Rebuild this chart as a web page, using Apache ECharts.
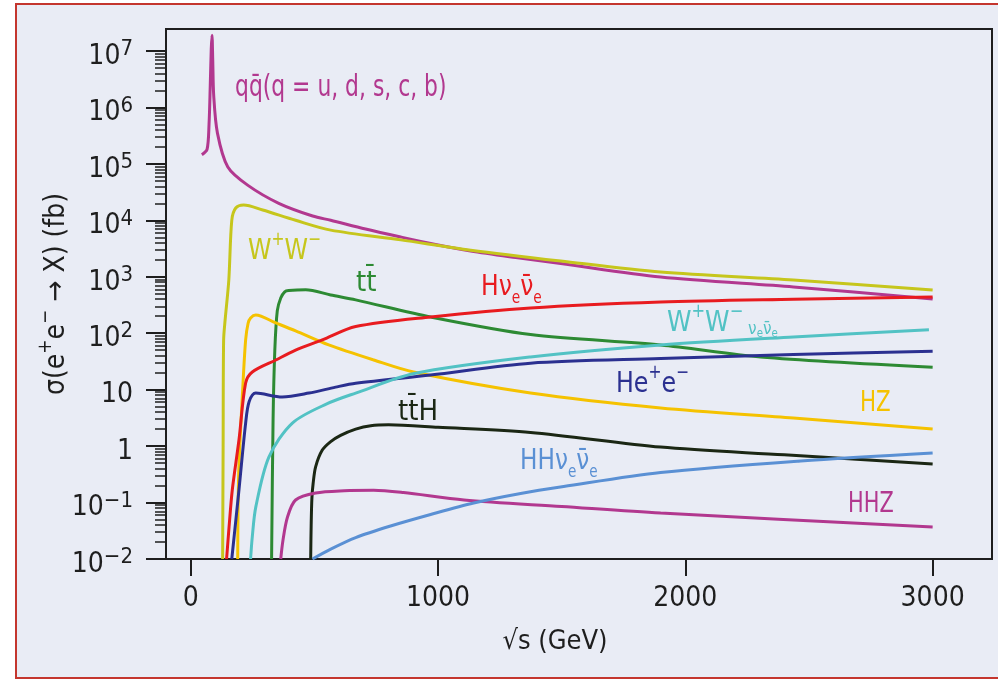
<!DOCTYPE html>
<html><head><meta charset="utf-8">
<script src="https://cdn.jsdelivr.net/npm/echarts@6/dist/echarts.min.js"></script>
<style>html,body{margin:0;padding:0;background:#fff}#c{width:998px;height:681px}</style>
</head><body><div id="c"></div>
<script>
// ---------- data ----------
const xTickValues = [0, 1000, 2000, 3000];
const yMajorTicks = [0.01, 0.1, 1, 10, 100, 1000, 1e4, 1e5, 1e6, 1e7];
const yTickBase = ['10', '10', '1', '10', '10', '10', '10', '10', '10', '10'];
const yTickExp = ['\u22122', '\u22121', '', '', '2', '3', '4', '5', '6', '7'];
const minorMultipliers = [2, 3, 4, 5, 6, 7, 8, 9];

const qqbar = [[45,1.45e5],[66,1.8e5],[74,5e5],[79,2.5e6],[83,1.1e7],[86,1.9e7],[89,7e6],[93,1.6e6],[108,3.5e5],[150,8.8e4],[230,4.2e4],[356,2.0e4],[493,1.19e4],[566,1.0e4],[707,7.0e3],[849,5.06e3],[990,3.73e3],[1132,2.86e3],[1314,2.19e3],[1496,1.71e3],[1900,990],[2437,660],[3000,404]];
const wwPair = [[129,0.01],[131,1],[133,76],[139,170],[154,877],[166,1.0e4],[182,1.65e4],[214,1.87e4],[291,1.52e4],[424,1.0e4],[566,6.7e3],[849,4.5e3],[1132,2.96e3],[1496,1.9e3],[1900,1.21e3],[2437,877],[3000,583]];
const ttbar = [[327,0.01],[333,3],[340,50],[350,250],[364,420],[380,540],[396,570],[465,590],[566,475],[667,390],[970,194],[1374,95],[1900,62],[2304,38],[3000,25]];
const hz = [[190,0.01],[194,0.33],[210,9.9],[222,76],[232,150],[242,186],[263,210],[344,152],[424,110],[558,62],[740,33.5],[901,20.5],[1374,8.7],[1900,4.73],[2437,3.14],[3000,2.01]];
const hnunu = [[145,0.01],[155,0.037],[168,0.167],[195,1.28],[222,13.1],[249,20.6],[344,33.5],[424,50],[532,76],[667,131],[970,194],[1374,280],[1900,357],[2437,400],[3000,440]];
const hee = [[166,0.01],[195,0.167],[222,2.55],[236,6.1],[263,8.7],[370,7.4],[478,8.7],[586,11.1],[667,13.0],[970,18.2],[1374,29.5],[1900,35.6],[2437,42],[3000,48]];
const wwnunu = [[242,0.01],[249,0.025],[263,0.083],[316,0.64],[411,2.56],[550,5.6],[667,8.7],[903,19.3],[1374,38],[1900,62],[2437,86],[2985,115]];
const tth = [[485,0.01],[487,0.04],[490,0.12],[495,0.22],[505,0.43],[532,0.85],[566,1.2],[606,1.55],[667,2.0],[728,2.3],[800,2.38],[1000,2.16],[1374,1.75],[1900,0.96],[2400,0.7],[3000,0.48]];
const hhz = [[364,0.01],[373,0.0215],[391,0.055],[424,0.111],[505,0.148],[620,0.162],[740,0.165],[860,0.15],[1105,0.111],[1500,0.085],[1900,0.065],[3000,0.037]];
const hhnunu = [[492,0.01],[566,0.015],[667,0.024],[808,0.0384],[970,0.0614],[1144,0.098],[1334,0.1446],[1508,0.192],[1900,0.34],[2466,0.544],[3000,0.755]];

// ---------- styling ----------
const FF = '"DejaVu Sans Condensed", "DejaVu Sans", sans-serif';
const INK = '#1e1e1e';
const C = {
  qq:'#b2388f', ww:'#c6c61c', tt:'#2d8a33', hz:'#f5c200', hnn:'#e81b1f',
  hee:'#2b3090', wwnn:'#52c2c4', tth:'#1b2714', hhnn:'#5a90d4', hhz:'#b2388f'
};

const minorTicks = [];
for (let n = -2; n <= 6; n++) minorMultipliers.forEach(k => minorTicks.push(k * Math.pow(10, n)));

function richSet(color, base) {
  return {
    b: {fontFamily: FF, fontSize: base, color: color, lineHeight: 40},
    s: {fontFamily: FF, fontSize: 19, color: color, lineHeight: 40, verticalAlign: 'top'},
    u: {fontFamily: FF, fontSize: 17, color: color, lineHeight: 40, verticalAlign: 'bottom'},
    n: {fontFamily: FF, fontSize: 18, color: color, lineHeight: 40, verticalAlign: 'bottom', padding: [0,0,5,0]},
    e: {fontFamily: FF, fontSize: 12, color: color, lineHeight: 40, verticalAlign: 'bottom', padding: [0,0,3,0]}
  };
}
function label(x, y, text, color, base, sx) {
  return {type: 'text', x: x, y: y, z: 100, silent: true, scaleX: sx, scaleY: 1, originX: 0, originY: 0,
    style: {text: text, rich: richSet(color, base), fill: color, font: base + 'px ' + FF, verticalAlign: 'middle', align: 'left'}};
}

function line(name, data, color) {
  return {name: name, type: 'line', data: data, showSymbol: false, symbol: 'none',
    smooth: 0.3, clip: true,
    lineStyle: {color: color, width: 3}, itemStyle: {color: color}, z: 3};
}

const chart = echarts.init(document.getElementById('c'), null, {renderer: 'canvas'});
chart.setOption({
  animation: false,
  backgroundColor: '#ffffff',
  grid: {left: 166, right: 6, top: 29, bottom: 122, show: true, borderColor: INK, borderWidth: 2,
    backgroundColor: 'transparent', outerBoundsMode: 'none', containLabel: false},
  xAxis: {
    type: 'value', min: -100, max: 3240,
    axisLine: {show: true, onZero: false, lineStyle: {color: INK, width: 2}},
    axisTick: {show: true, customValues: xTickValues, length: 17, lineStyle: {color: INK, width: 2}},
    minorTick: {show: false}, splitLine: {show: false},
    axisLabel: {customValues: xTickValues, margin: 26, color: INK, fontFamily: FF, fontSize: 28,
      formatter: v => String(v)},
    name: '\u221As (GeV)', nameLocation: 'middle', nameGap: 69, nameMoveOverlap: false,
    nameTextStyle: {fontFamily: FF, fontSize: 27, color: INK, padding: [0, 48, 0, 0]}
  },
  yAxis: [{
    type: 'log', logBase: 10, min: 0.01, max: 2.45e7, position: 'left',
    axisLine: {show: true, onZero: false, lineStyle: {color: INK, width: 2}},
    axisTick: {show: true, customValues: yMajorTicks, length: 20, lineStyle: {color: INK, width: 2}},
    minorTick: {show: false}, splitLine: {show: false},
    axisLabel: {
      customValues: yMajorTicks, margin: 33, padding: [7, 0, 0, 0],
      formatter: function (v) {
        const i = Math.round(Math.log10(v)) + 2;
        const e = yTickExp[i];
        return '{b|' + yTickBase[i] + '}' + (e ? '{s|' + e + '}' : '');
      },
      rich: {
        b: {fontFamily: FF, fontSize: 28, color: INK, lineHeight: 32, verticalAlign: 'bottom'},
        s: {fontFamily: FF, fontSize: 22, color: INK, lineHeight: 32, verticalAlign: 'top'}
      }
    },
    name: '{b|\u03C3(e}{s|+}{b|e}{s|\u2212}{b| \u2192 X) (fb)}',
    nameLocation: 'middle', nameGap: 95, nameRotate: 90, nameMoveOverlap: false,
    nameTextStyle: {fontFamily: FF, fontSize: 28, color: INK, rich: {
      b: {fontFamily: FF, fontSize: 28, color: INK, lineHeight: 34, verticalAlign: 'bottom'},
      s: {fontFamily: FF, fontSize: 19, color: INK, lineHeight: 34, verticalAlign: 'top'}
    }}
  }, {
    type: 'log', logBase: 10, min: 0.01, max: 2.45e7, position: 'left', offset: 0,
    axisLine: {show: false, onZero: false},
    axisTick: {show: true, customValues: minorTicks, length: 11, lineStyle: {color: INK, width: 1.5}},
    axisLabel: {show: false}, splitLine: {show: false}, minorTick: {show: false}
  }],
  series: [
    line('qqbar', qqbar, C.qq),
    line('WW', wwPair, C.ww),
    line('ttbar', ttbar, C.tt),
    line('HZ', hz, C.hz),
    line('Hnunu', hnunu, C.hnn),
    line('Hee', hee, C.hee),
    line('WWnunu', wwnunu, C.wwnn),
    line('ttH', tth, C.tth),
    line('HHZ', hhz, C.hhz),
    line('HHnunu', hhnunu, C.hhnn)
  ],
  graphic: [
    {type: 'rect', z: -100, silent: true, shape: {x: 16, y: 4, width: 1000, height: 674},
      style: {fill: '#e9ecf5', stroke: '#c4362e', lineWidth: 2}},
    label(235, 88, '{b|qq\u0304(q = u, d, s, c, b)}', C.qq, 30, 0.81),
    label(248, 251, '{b|W}{s|+}{b|W}{s|\u2212}', C.ww, 29, 0.91),
    label(356, 283, '{b|tt\u0304}', C.tt, 29, 1),
    label(481, 287, '{b|H\u03BD}{u|e}{b|\u03BD\u0304}{u|e}', C.hnn, 29, 0.9),
    label(667, 323, '{b|W}{s|+}{b|W}{s|\u2212}{n| \u03BD}{e|e}{n|\u03BD\u0304}{e|e}', C.wwnn, 29, 0.95),
    label(616, 384, '{b|He}{s|+}{b|e}{s|\u2212}', C.hee, 29, 0.91),
    label(860, 403, '{b|HZ}', C.hz, 29, 0.82),
    label(398, 412, '{b|tt\u0304H}', C.tth, 29, 1),
    label(520, 461, '{b|HH\u03BD}{u|e}{b|\u03BD\u0304}{u|e}', C.hhnn, 29, 0.89),
    label(848, 504, '{b|HHZ}', C.hhz, 29, 0.8)
  ]
});
</script>
</body></html>
